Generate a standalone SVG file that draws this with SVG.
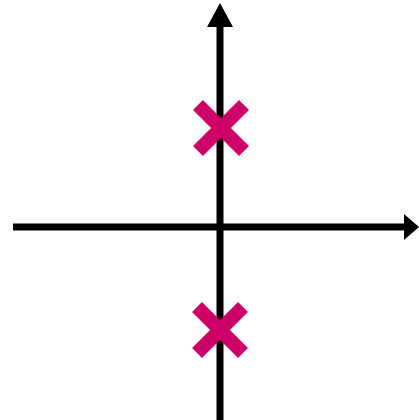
<svg xmlns="http://www.w3.org/2000/svg" width="419" height="420" viewBox="0 0 419 420">
<style>
.axis{stroke:#000;stroke-width:7;fill:none}
.head{fill:#000}
.x{stroke:#cc0066;stroke-width:14;stroke-linecap:butt;fill:none}
</style>
<rect width="419" height="420" fill="#fff"/>
<g id="axes">
<line class="axis" x1="13" y1="227" x2="406" y2="227"/>
<polygon class="head" points="419,227 404,214 404,240"/>
<line class="axis" x1="220" y1="420" x2="220" y2="25"/>
<polygon class="head" points="220,3 207,27 233,27"/>
</g>
<g id="pole-upper">
<line class="x" x1="198" y1="105" x2="244" y2="151"/>
<line class="x" x1="244" y1="105" x2="198" y2="151"/>
</g>
<g id="pole-lower">
<line class="x" x1="197" y1="307" x2="243" y2="353"/>
<line class="x" x1="243" y1="307" x2="197" y2="353"/>
</g>
</svg>
